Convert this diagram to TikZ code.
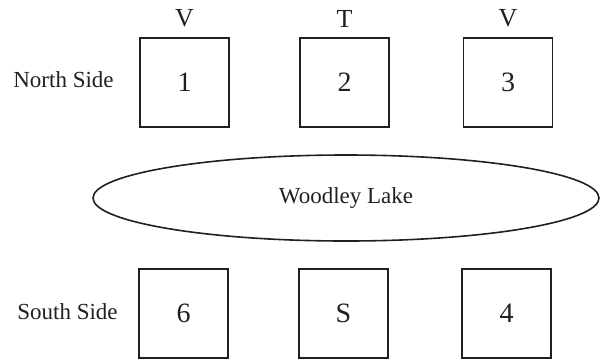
\documentclass[tikz,border=0pt]{standalone}
\usepackage{fontspec}
\setmainfont{Liberation Serif}
\usetikzlibrary{shapes.geometric}
\definecolor{ink}{RGB}{35,31,32}
\begin{document}
\begin{tikzpicture}[x=1pt,y=-1pt,
  every node/.style={text=ink,font=\fontsize{23}{27}\selectfont},
  lot/.style={draw=ink,line width=1.6pt,minimum width=89pt,minimum height=89pt,inner sep=0pt,font=\fontsize{28}{32}\selectfont},
  lake/.style={draw=ink,line width=1.6pt,ellipse,minimum width=506pt,minimum height=86pt,inner sep=0pt},
  tag/.style={inner sep=0pt},
  head/.style={inner sep=0pt,font=\fontsize{26}{30}\selectfont}]
\useasboundingbox (0,0) rectangle (608,360);
\node[lot] (b1) at (184.5,82.5) {1};
\node[lot] (b2) at (344.5,82.5) {2};
\node[lot] (b3) at (508,82.5) {3};
\node[lot] (b6) at (183.5,313.5) {6};
\node[lot] (bS) at (343.5,313.5) {S};
\node[lot] (b4) at (506.5,313.5) {4};
\node[head] (v1) at (184.5,18.5) {V};
\node[head] (t2) at (344.5,18.5) {T};
\node[head] (v3) at (508,18.5) {V};
\node[tag] (north) at (63.5,80) {North Side};
\node[tag] (south) at (67.5,312) {South Side};
\node[lake] (lake) at (346,198) {Woodley Lake};
\end{tikzpicture}
\end{document}
